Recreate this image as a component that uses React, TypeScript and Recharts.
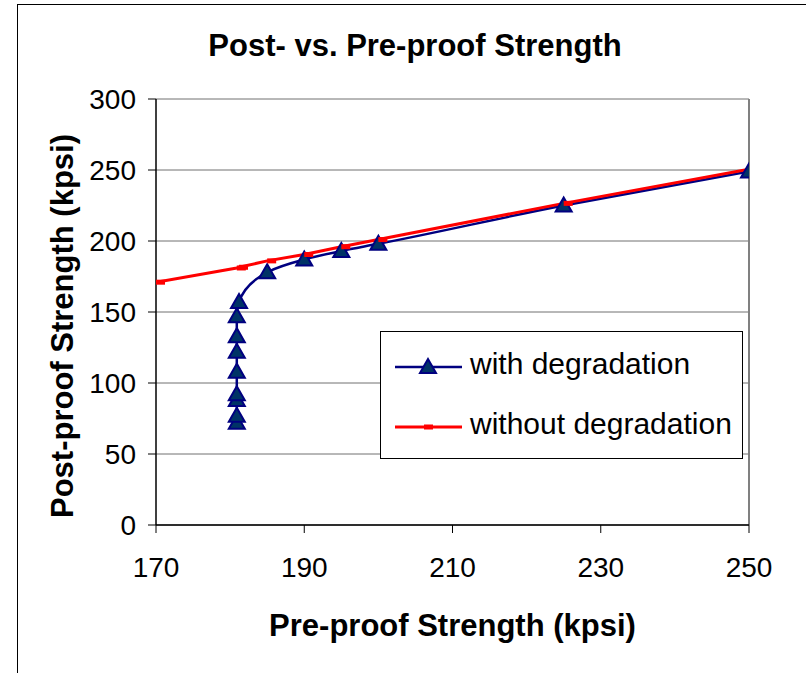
import { LineChart, Line, XAxis, YAxis, CartesianGrid, ReferenceLine, Legend } from 'recharts';

// with degradation (x = pre-proof, y = post-proof), kpsi
const withX = [180.9, 180.9, 180.9, 180.9, 180.9, 180.9, 180.9, 180.9, 181.2, 185, 190, 195, 200, 225, 250];
const withY = [72, 77, 88, 92, 108, 122, 133, 147, 157, 178, 187, 193, 198, 225, 249];

// without degradation
const withoutX = [170, 180.9, 181.2, 185, 190, 195, 200, 225, 250];
const withoutY = [171, 181, 181.5, 186, 190.5, 196, 201, 226.5, 250.5];

const xTicks = [170, 190, 210, 230, 250];
const yTicks = [0, 50, 100, 150, 200, 250, 300];

const withData = withX.map((x, i) => ({ x, y: withY[i] }));
const withoutData = withoutX.map((x, i) => ({ x, y: withoutY[i] }));

const font = "'Liberation Sans', Arial, Helvetica, sans-serif";

const Triangle = (props: any) => {
  const { cx, cy } = props;
  if (cx == null || cy == null) return null;
  return (
    <polygon
      points={`${cx},${cy - 8} ${cx - 8},${cy + 6} ${cx + 8},${cy + 6}`}
      fill="#003366"
      stroke="#000080"
      strokeWidth={2}
    />
  );
};

const Dash = (props: any) => {
  const { cx, cy } = props;
  if (cx == null || cy == null) return null;
  return <rect x={cx} y={cy - 2.5} width={9} height={5} fill="#ff0000" />;
};

const LegendBox = () => (
  <div
    style={{
      width: 363,
      height: 128,
      boxSizing: 'border-box',
      border: '1px solid #000',
      background: '#fff',
      fontFamily: font,
      fontSize: 30,
      color: '#000',
    }}
  >
    <div style={{ position: 'absolute', left: 14, top: 16, display: 'flex', alignItems: 'center' }}>
      <svg width={70} height={30}>
        <line x1={1} y1={18} x2={68} y2={18} stroke="#000080" strokeWidth={2.5} />
        <polygon points="34,10 26,24 42,24" fill="#003366" stroke="#000080" strokeWidth={2} />
      </svg>
      <span style={{ marginLeft: 6, lineHeight: '34px' }}>with degradation</span>
    </div>
    <div style={{ position: 'absolute', left: 14, top: 76, display: 'flex', alignItems: 'center' }}>
      <svg width={70} height={30}>
        <line x1={1} y1={18} x2={68} y2={18} stroke="#ff0000" strokeWidth={3} />
        <rect x={30} y={15.5} width={9} height={5} fill="#ff0000" />
      </svg>
      <span style={{ marginLeft: 6, lineHeight: '34px' }}>without degradation</span>
    </div>
  </div>
);

export default function App() {
  return (
    <div style={{ position: 'absolute', left: 0, top: 0, width: 806, height: 673, background: '#fff', fontFamily: font }}>
      <div style={{ position: 'absolute', left: 17, top: 4, width: 789, height: 669, borderLeft: '1px solid #000', borderTop: '1px solid #000' }} />

      <div style={{ position: 'absolute', left: 0, width: 830, top: 28, textAlign: 'center', fontSize: 31, fontWeight: 'bold' }}>
        Post- vs. Pre-proof Strength
      </div>

      <div style={{ position: 'absolute', left: 156, width: 593, top: 608, textAlign: 'center', fontSize: 31, fontWeight: 'bold' }}>
        Pre-proof Strength (kpsi)
      </div>

      <div
        style={{
          position: 'absolute',
          left: 63 - 200,
          top: 326 - 20,
          width: 400,
          height: 40,
          lineHeight: '40px',
          textAlign: 'center',
          fontSize: 31,
          fontWeight: 'bold',
          transform: 'rotate(-90deg)',
        }}
      >
        Post-proof Strength (kpsi)
      </div>

      <div style={{ position: 'absolute', left: 0, top: 0 }}>
        <LineChart width={806} height={673} margin={{ top: 99, right: 57, bottom: 88, left: 86 }}>
          <CartesianGrid vertical={false} stroke="#707070" strokeWidth={1} />
          <ReferenceLine x={250} stroke="#808080" strokeWidth={2} />
          <XAxis
            dataKey="x"
            type="number"
            domain={[170, 250]}
            ticks={xTicks}
            height={60}
            allowDataOverflow
            axisLine={{ stroke: '#000', strokeWidth: 1.5 }}
            tickLine={{ stroke: '#000' }}
            tickSize={8}
            tickMargin={24}
            tick={{ fill: '#000', fontSize: 28, fontFamily: font }}
          />
          <YAxis
            type="number"
            domain={[0, 300]}
            ticks={yTicks}
            width={70}
            axisLine={{ stroke: '#000', strokeWidth: 1.5 }}
            tickLine={{ stroke: '#000' }}
            tickSize={8}
            tickMargin={12}
            tick={{ fill: '#000', fontSize: 28, fontFamily: font }}
          />
          <Legend
            verticalAlign="middle"
            align="center"
            layout="horizontal"
            wrapperStyle={{ position: 'absolute', left: 380, top: 331, width: 363, height: 128 }}
            content={() => <LegendBox />}
          />
          <Line
            data={withData}
            dataKey="y"
            type="monotoneY"
            stroke="#000080"
            strokeWidth={2.5}
            dot={<Triangle />}
            activeDot={false}
            isAnimationActive={false}
          />
          <Line
            data={withoutData}
            dataKey="y"
            type="linear"
            stroke="#ff0000"
            strokeWidth={3}
            dot={<Dash />}
            activeDot={false}
            isAnimationActive={false}
          />
        </LineChart>
      </div>
    </div>
  );
}
